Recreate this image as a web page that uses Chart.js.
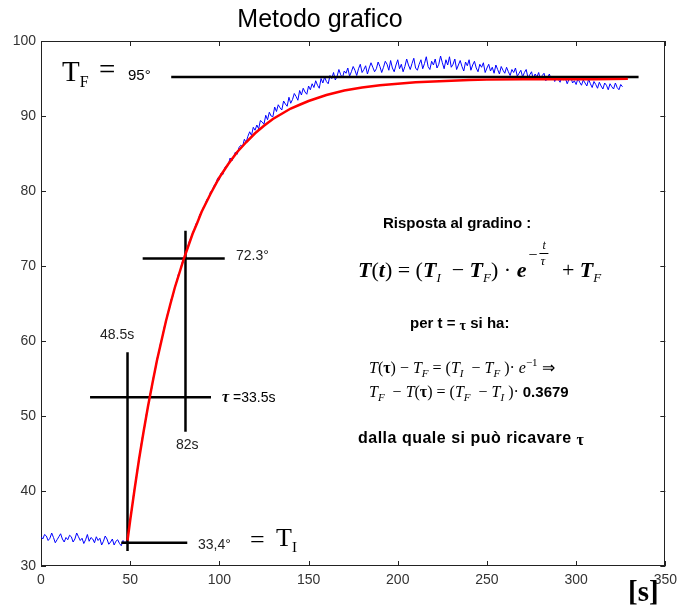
<!DOCTYPE html>
<html><head><meta charset="utf-8">
<script src="https://cdn.jsdelivr.net/npm/chart.js@4/dist/chart.umd.min.js"></script>
<style>html,body{margin:0;padding:0;background:#fff}</style>
</head><body>
<canvas id="c" width="683" height="610"></canvas>
<script>
// ---- tick labels ----
const xTicks = [0, 50, 100, 150, 200, 250, 300, 350];
const yTicks = [30, 40, 50, 60, 70, 80, 90, 100];

// ---- measured temperature (blue), one sample per second from t = 0 ----
const blueStart = 0, blueStep = 1;
const blueValues = [
 33.9,33.6,34.2,34.0,33.4,33.7,34.4,33.8,33.1,33.5,
 33.9,34.3,33.6,33.2,33.8,33.5,34.1,33.9,33.2,33.6,
 34.4,33.9,33.4,33.7,33.0,33.5,34.2,33.3,33.8,33.6,
 33.1,33.9,33.4,33.7,32.8,33.3,34.0,33.6,32.9,33.2,
 33.6,32.8,33.3,33.5,33.0,32.7,33.4,33.1,33.3,
 34.6,36.3,37.6,39.8,41.0,42.9,44.1,46.0,47.4,48.4,50.2,
 51.2,52.8,53.6,55.2,56.0,57.6,58.4,59.7,60.5,61.8,
 62.5,63.7,64.3,65.6,66.0,67.2,67.9,68.9,69.3,70.4,
 70.8,71.9,72.1,73.2,73.7,74.4,74.9,75.7,75.9,76.9,
 77.1,77.8,78.2,78.9,79.0,79.9,80.1,80.7,81.0,81.7,
 81.5,82.4,82.2,83.1,83.4,83.5,84.4,84.0,84.6,85.2,
 84.9,85.8,86.1,85.9,86.9,86.5,87.3,87.9,87.4,88.5,88.1,
 88.8,88.3,89.4,89.2,88.9,90.1,89.5,90.5,90.0,89.9,
 91.2,90.6,91.5,91.1,90.8,92.0,91.6,91.3,92.5,91.7,
 92.2,93.0,92.6,92.1,93.4,92.8,93.7,93.2,92.9,94.0,
 93.5,94.3,93.8,94.7,94.1,93.7,95.0,94.4,95.2,94.6,
 94.3,95.4,95.0,95.8,94.8,95.3,96.2,95.5,95.1,96.0,
 95.7,96.4,95.3,95.9,96.6,96.1,95.4,96.3,96.9,95.8,
 96.2,96.7,95.6,96.4,97.1,96.5,95.9,96.3,97.2,96.6,
 95.8,96.5,97.3,96.9,96.1,97.4,96.4,95.9,96.8,97.5,
 96.3,96.9,95.9,96.6,97.6,96.8,96.2,97.0,97.7,96.4,
 96.1,96.9,97.5,96.3,97.0,97.9,96.6,96.2,97.3,96.8,
 97.6,96.4,96.9,98.0,97.1,96.3,97.5,96.8,97.9,96.5,
 96.9,97.6,96.2,96.8,97.4,96.6,96.0,97.2,96.7,97.5,
 96.1,96.8,97.3,96.4,95.9,96.9,96.5,97.1,95.8,96.4,
 96.9,96.0,96.5,95.7,96.8,96.2,95.6,96.6,96.1,95.7,
 96.5,95.9,95.4,96.2,95.8,96.4,95.3,95.7,96.1,95.2,
 95.8,96.2,95.1,95.5,95.9,94.9,95.6,95.2,95.8,94.8,
 95.4,95.7,94.7,95.1,95.6,94.8,95.3,94.6,95.2,94.9,
 94.5,95.3,94.8,95.0,94.3,94.9,95.2,94.4,94.7,94.2,
 95.0,94.5,94.1,94.8,94.4,94.0,94.9,94.3,93.8,94.6,
 94.2,93.7,94.5,94.0,93.6,94.4,94.1,93.5,94.3,93.9,
 93.6,94.4,93.8,93.5,94.2,93.9
];

// ---- fitted first-order response (red) ----
const redTimes  = [48.5,50,52.5,55,57.5,60,62.5,65,67.5,70,72.5,75,77.5,80,82.5,85,87.5,90,95,100,105,110,115,120,125,130,135,140,145,150,160,170,180,190,200,210,220,230,240,250,270,290,310,329];
const redValues = [33.4,36.1,40.3,44.3,47.9,51.3,54.4,57.4,60.0,62.6,64.9,67.1,69.0,70.9,72.6,74.3,75.7,77.2,79.6,81.8,83.6,85.2,86.5,87.7,88.7,89.6,90.3,91.0,91.5,92.0,92.8,93.4,93.8,94.1,94.3,94.5,94.6,94.7,94.8,94.85,94.9,94.9,94.9,94.95];

// ---- black construction lines ----
const tfLineT   = [73, 335];    const tfLineV   = [95.2, 95.2];
const tiLineT   = [45, 82];     const tiLineV   = [33.1, 33.1];
const stepLineT = [48.5, 48.5]; const stepLineV = [32.0, 58.5];
const tauLineT  = [27.5, 95.3]; const tauLineV  = [52.5, 52.5];
const t82LineT  = [81, 81];     const t82LineV  = [47.9, 74.7];
const t723LineT = [57, 103];    const t723LineV = [71.0, 71.0];

const pts = (ts, vs) => ts.map((t, i) => ({x: t, y: vs[i]}));
const bluePts = blueValues.map((v, i) => ({x: blueStart + i * blueStep, y: v}));

const SANS = '"Liberation Sans", Arial, sans-serif';
const SERIF = '"Liberation Serif", "Times New Roman", serif';

function blackLine(ts, vs) {
  return {data: pts(ts, vs), borderColor: '#000', borderWidth: 2.5, pointRadius: 0, order: 1, borderCapStyle: 'butt'};
}

function drawRuns(ctx, x, y, runs) {
  for (const r of runs) {
    ctx.font = r.f;
    if (r.draw) { r.draw(ctx, x, y); x += r.w; continue; }
    ctx.fillText(r.t, x, y + (r.dy || 0));
    x += ctx.measureText(r.t).width;
  }
  return x;
}

const framePlugin = {
  id: 'frame',
  beforeDatasetsDraw(chart) {
    const {ctx, chartArea: a, scales} = chart;
    ctx.save();
    ctx.strokeStyle = '#222';
    ctx.lineWidth = 1;
    ctx.strokeRect(Math.round(a.left) + 0.5, Math.round(a.top) + 0.5, Math.round(a.right - a.left) - 1, Math.round(a.bottom - a.top) - 1);
    ctx.beginPath();
    const L = 5;
    for (const v of xTicks) {
      const px = Math.round(scales.x.getPixelForValue(v)) + 0.5;
      ctx.moveTo(px, a.bottom); ctx.lineTo(px, a.bottom - L);
      ctx.moveTo(px, a.top); ctx.lineTo(px, a.top + L);
    }
    for (const v of yTicks) {
      const py = Math.round(scales.y.getPixelForValue(v)) + 0.5;
      ctx.moveTo(a.left, py); ctx.lineTo(a.left + L, py);
      ctx.moveTo(a.right, py); ctx.lineTo(a.right - L, py);
    }
    ctx.stroke();
    ctx.restore();
  },
  afterDatasetsDraw(chart) {
    const {ctx} = chart;
    ctx.save();
    ctx.fillStyle = '#000';
    ctx.textBaseline = 'alphabetic';
    ctx.textAlign = 'left';

    // title
    ctx.font = '25px ' + SANS;
    ctx.textAlign = 'center';
    ctx.fillText('Metodo grafico', 320, 27);
    ctx.textAlign = 'left';

    // T_F = 95°
    drawRuns(ctx, 62, 81, [{t: 'T', f: '29px ' + SERIF}, {t: 'F', f: '16px ' + SERIF, dy: 6}]);
    ctx.font = '29px ' + SERIF; ctx.fillText('=', 99, 79);
    ctx.font = '15px ' + SANS; ctx.fillText('95°', 128, 80);

    // small labels
    ctx.font = '14px ' + SANS;
    ctx.fillStyle = '#222';
    ctx.fillText('72.3°', 236, 260);
    ctx.fillText('48.5s', 100, 339);
    ctx.fillText('82s', 176, 449);
    ctx.fillText('33,4°', 198, 549);
    ctx.fillStyle = '#000';
    drawRuns(ctx, 222, 402, [{t: 'τ', f: 'italic bold 16px ' + SERIF}, {t: ' =33.5s', f: '14px ' + SANS}]);

    // = T_I
    ctx.font = '26px ' + SERIF; ctx.fillText('=', 250, 548);
    drawRuns(ctx, 276, 546, [{t: 'T', f: '26px ' + SERIF}, {t: 'I', f: '15px ' + SERIF, dy: 6}]);

    // [s]
    ctx.font = 'bold 29px ' + SERIF; ctx.fillText('[s]', 628, 601);

    // right text block
    ctx.font = 'bold 15px ' + SANS;
    ctx.fillText('Risposta al gradino :', 383, 228);

    const BI = 'italic bold 22px ' + SERIF, R = '22px ' + SERIF, SUB = 'italic 13px ' + SERIF;
    const expo = {f: R, w: 30, draw(c, x, y) {
      c.font = '16px ' + SERIF; c.fillText('−', x + 2, y - 17);
      c.font = 'italic 12px ' + SERIF; c.fillText('t', x + 16, y - 28);
      c.fillRect(x + 13, y - 24, 9, 1);
      c.font = 'italic 13px ' + SERIF; c.fillText('τ', x + 14, y - 12);
    }};
    drawRuns(ctx, 358, 277, [
      {t: 'T', f: BI}, {t: '(', f: R}, {t: 't', f: BI}, {t: ')', f: R}, {t: ' = ', f: R},
      {t: '(', f: R}, {t: 'T', f: BI}, {t: 'I', f: SUB, dy: 5}, {t: '  − ', f: R},
      {t: 'T', f: BI}, {t: 'F', f: SUB, dy: 5}, {t: ') · ', f: R}, {t: 'e', f: BI},
      expo, {t: ' + ', f: R}, {t: 'T', f: BI}, {t: 'F', f: SUB, dy: 5}
    ]);

    drawRuns(ctx, 410, 328, [
      {t: 'per t = ', f: 'bold 15px ' + SANS}, {t: 'τ', f: 'bold 14px ' + SERIF, dy: 2}, {t: ' si ha:', f: 'bold 15px ' + SANS}
    ]);

    const I15 = 'italic 16px ' + SERIF, R15 = '16px ' + SERIF, S10 = 'italic 11px ' + SERIF, TB = 'bold 16px ' + SERIF;
    drawRuns(ctx, 369, 373, [
      {t: 'T', f: I15}, {t: '(', f: R15}, {t: 'τ', f: TB}, {t: ')', f: R15}, {t: ' − ', f: R15},
      {t: 'T', f: I15}, {t: 'F', f: S10, dy: 4}, {t: ' = ', f: R15}, {t: '(', f: R15}, {t: 'T', f: I15},
      {t: 'I', f: S10, dy: 4}, {t: '  − ', f: R15}, {t: 'T', f: I15}, {t: 'F', f: S10, dy: 4}, {t: ' )', f: R15},
      {t: '· ', f: R15}, {t: 'e', f: I15}, {t: '−1', f: '11px ' + SERIF, dy: -7}, {t: ' ⇒', f: R15}
    ]);
    drawRuns(ctx, 369, 397, [
      {t: 'T', f: I15}, {t: 'F', f: S10, dy: 4}, {t: '  − ', f: R15}, {t: 'T', f: I15}, {t: '(', f: R15},
      {t: 'τ', f: TB}, {t: ')', f: R15}, {t: ' = ', f: R15}, {t: '(', f: R15}, {t: 'T', f: I15},
      {t: 'F', f: S10, dy: 4}, {t: '  − ', f: R15}, {t: 'T', f: I15}, {t: 'I', f: S10, dy: 4}, {t: ' )', f: R15},
      {t: '· ', f: R15}, {t: '0.3679', f: 'bold 15px ' + SANS}
    ]);

    ctx.letterSpacing = '0.5px';
    drawRuns(ctx, 358, 443, [
      {t: 'dalla quale si può ricavare ', f: 'bold 16px ' + SANS}, {t: 'τ', f: 'bold 16px ' + SERIF, dy: 2}
    ]);
    ctx.letterSpacing = '0px';
    ctx.restore();
  }
};

new Chart(document.getElementById('c'), {
  type: 'line',
  data: {
    datasets: [
      {data: pts(redTimes, redValues), borderColor: '#ff0000', borderWidth: 2.5, pointRadius: 0, order: 0},
      blackLine(tfLineT, tfLineV),
      blackLine(tiLineT, tiLineV),
      blackLine(stepLineT, stepLineV),
      blackLine(tauLineT, tauLineV),
      blackLine(t82LineT, t82LineV),
      blackLine(t723LineT, t723LineV),
      {data: bluePts, borderColor: '#0000ff', borderWidth: 1, pointRadius: 0, order: 2}
    ]
  },
  options: {
    responsive: false,
    animation: false,
    devicePixelRatio: 1,
    layout: {padding: {top: 41, right: 12, left: 0, bottom: 0}},
    plugins: {legend: {display: false}, tooltip: {enabled: false}, title: {display: false}},
    elements: {line: {tension: 0}},
    scales: {
      x: {
        type: 'linear', min: 0, max: 350,
        afterBuildTicks: s => { s.ticks = xTicks.map(v => ({value: v})); },
        afterFit: s => { s.height = 44; },
        grid: {display: false, drawTicks: false},
        border: {display: false},
        ticks: {padding: 6, color: '#333', font: {family: SANS, size: 14}, maxRotation: 0, autoSkip: false}
      },
      y: {
        type: 'linear', min: 30, max: 100,
        afterBuildTicks: s => { s.ticks = yTicks.map(v => ({value: v})); },
        afterFit: s => { s.width = 41; },
        grid: {display: false, drawTicks: false},
        border: {display: false},
        ticks: {padding: 5, color: '#333', font: {family: SANS, size: 14}, autoSkip: false}
      }
    }
  },
  plugins: [framePlugin]
});
</script>
</body></html>
